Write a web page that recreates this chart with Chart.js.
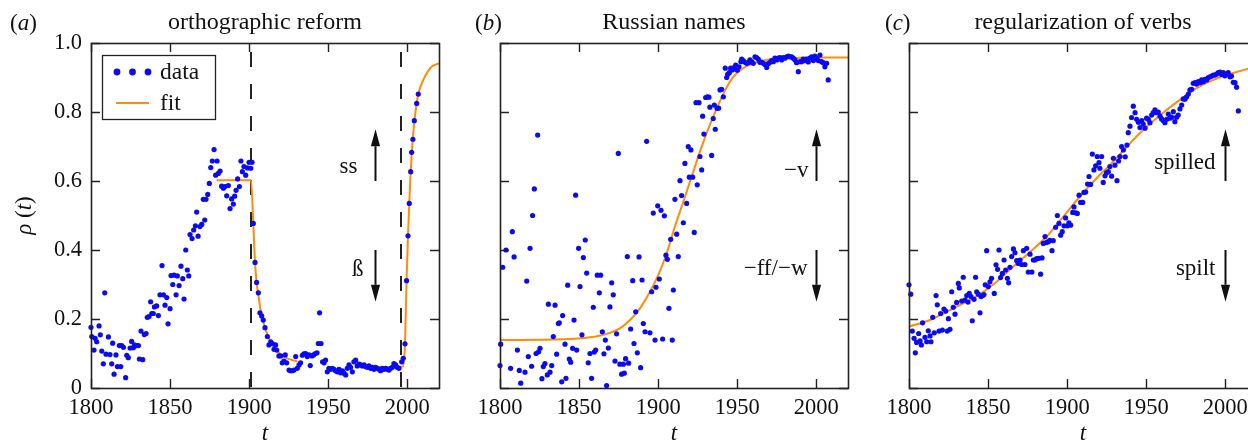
<!DOCTYPE html>
<html>
<head>
<meta charset="utf-8">
<script src="https://cdn.jsdelivr.net/npm/chart.js@4.4.1/dist/chart.umd.min.js"></script>
<style>
  html, body { margin: 0; padding: 0; background: #fff; }
  #wrap { position: relative; width: 1248px; height: 443px; overflow: hidden; }
  #wrap canvas { position: absolute; top: 0; }
</style>
</head>
<body>
<div id="wrap">
  <canvas id="chartA" width="445" height="443" style="left:0px"></canvas>
  <canvas id="chartB" width="445" height="443" style="left:409px"></canvas>
  <canvas id="chartC" width="445" height="443" style="left:818px"></canvas>
</div>
<script>
// ── Axis ticks ──────────────────────────────────────────────
const xTickValues = [1800, 1850, 1900, 1950, 2000];
const yTickValues = [0, 0.2, 0.4, 0.6, 0.8, 1.0];

// ── (a) orthographic reform ────────────────────────────────
const orthoYears = [
  1800.0,1800.5,1801.9,1802.6,1803.6,1805.1,1805.9,1806.8,1807.8,1808.7,
  1809.5,1811.0,1812.0,1813.1,1813.7,1814.6,1815.8,1816.7,1817.9,1818.8,
  1819.4,1820.5,1821.9,1822.6,1823.6,1824.7,1825.7,1826.8,1827.4,1828.9,
  1830.0,1830.6,1831.6,1832.7,1833.7,1834.8,1835.6,1836.7,1837.7,1838.4,
  1839.4,1840.1,1841.5,1842.6,1843.6,1844.9,1845.8,1846.8,1847.9,1848.7,
  1850.0,1850.6,1851.7,1852.5,1853.8,1854.6,1855.7,1856.9,1858.0,1858.8,
  1859.9,1860.9,1861.8,1862.6,1863.9,1864.9,1866.0,1866.8,1867.7,1868.9,
  1870.0,1871.0,1871.9,1872.7,1873.8,1874.8,1875.7,1876.7,1877.8,1878.8,
  1879.7,1880.5,1881.6,1882.6,1883.7,1884.7,1885.8,1886.8,1887.9,1888.9,
  1890.0,1890.8,1891.7,1892.7,1893.8,1894.8,1895.7,1896.7,1897.8,1898.9,
  1899.9,1901.0,1901.8,
  1902.6,1903.7,1904.7,1905.8,1906.8,1907.9,1908.9,1910.0,1911.5,1912.5,
  1913.6,1914.6,1915.7,1916.7,1917.4,1918.8,1919.9,1920.9,1922.0,1922.8,
  1923.7,1925.2,1926.2,1927.3,1928.3,1929.4,1930.4,1931.5,1932.5,1933.6,
  1934.6,1935.7,1936.7,1937.8,1938.6,1939.7,1940.7,1941.8,1942.9,1943.7,
  1944.5,1945.4,1946.4,1947.3,1948.3,1949.4,1950.4,1951.5,1952.5,1953.6,
  1954.6,1955.7,1956.8,1957.8,1958.9,1959.9,1961.0,1962.0,1963.1,1964.1,
  1965.2,1966.2,1967.3,1968.3,1969.4,1970.5,1971.5,1972.6,1973.6,1974.7,
  1975.7,1976.8,1977.8,1978.9,1979.9,1981.0,1982.0,1983.1,1984.1,1985.2,
  1986.3,1987.3,1988.4,1989.4,1990.5,1991.5,1992.6,1993.6,1994.7,1996.4,
  1997.4,1998.5,1999.5,2000.4,2001.2,2002.1,2002.7,2003.5,2004.4,2005.9,
  2006.9
];
const orthoShare = [
  0.176,0.149,0.110,0.144,0.134,0.180,0.154,0.107,0.070,0.276,
  0.098,0.148,0.097,0.070,0.130,0.040,0.096,0.062,0.123,0.062,
  0.123,0.118,0.030,0.095,0.088,0.116,0.135,0.117,0.125,0.123,
  0.123,0.084,0.165,0.082,0.155,0.158,0.205,0.207,0.250,0.216,
  0.216,0.235,0.238,0.210,0.270,0.355,0.270,0.240,0.262,0.186,
  0.230,0.326,0.300,0.327,0.270,0.325,0.297,0.353,0.317,0.258,
  0.400,0.342,0.325,0.445,0.433,0.458,0.470,0.510,0.440,0.468,
  0.474,0.547,0.487,0.547,0.561,0.593,0.639,0.658,0.691,0.617,
  0.658,0.622,0.629,0.585,0.579,0.584,0.557,0.587,0.520,0.548,
  0.533,0.556,0.573,0.606,0.584,0.658,0.627,0.642,0.617,0.638,
  0.654,0.637,0.654,
  0.477,0.364,0.306,0.276,0.218,0.209,0.197,0.175,0.149,0.125,
  0.134,0.129,0.112,0.125,0.110,0.093,0.093,0.073,0.078,0.096,
  0.073,0.052,0.050,0.050,0.052,0.091,0.057,0.067,0.073,0.095,
  0.099,0.100,0.091,0.096,0.065,0.093,0.096,0.100,0.102,0.129,
  0.218,0.129,0.076,0.073,0.081,0.047,0.057,0.054,0.057,0.054,
  0.050,0.047,0.054,0.044,0.050,0.043,0.038,0.057,0.067,0.060,
  0.047,0.076,0.081,0.064,0.069,0.067,0.064,0.067,0.062,0.060,
  0.064,0.057,0.060,0.054,0.060,0.057,0.054,0.050,0.057,0.054,
  0.057,0.054,0.052,0.057,0.060,0.071,0.067,0.060,0.057,0.076,
  0.086,0.128,0.311,0.441,0.535,0.627,0.683,0.721,0.775,0.825,
  0.852
];
const orthoFitYears1 = [1879.4, 1901.2, 1902.6, 1903.7, 1904.7, 1905.8, 1907.0, 1908.5, 1910.0, 1912.0, 1915.0, 1919.5, 1924.0, 1930.5];
const orthoFitShare1 = [0.602, 0.602, 0.477, 0.364, 0.306, 0.270, 0.232, 0.200, 0.175, 0.150, 0.122, 0.099, 0.086, 0.077];
const orthoFitYears2 = [1975.0, 1985.0, 1997.3, 1998.5, 1999.5, 2000.4, 2001.2, 2002.1, 2002.7, 2003.5, 2004.4, 2005.9, 2006.9, 2010.1, 2015.3, 2020.0];
const orthoFitShare2 = [0.061, 0.060, 0.062, 0.128, 0.311, 0.441, 0.535, 0.627, 0.675, 0.725, 0.772, 0.825, 0.852, 0.893, 0.931, 0.941];
const reformYears = [1901, 1996];

// ── (b) Russian names ──────────────────────────────────────
const russianYears = [
  1800.4,1800.0,1801.7,1803.8,1806.7,1807.8,1808.9,1811.0,1812.2,1813.1,
  1815.8,1816.9,1817.9,1819.0,1820.0,1820.6,1821.7,1822.8,1823.8,1824.4,
  1825.3,1826.5,1827.4,1828.4,1829.9,1830.6,1831.6,1832.7,1833.7,1834.8,
  1835.8,1836.9,1837.5,1839.0,1839.6,1841.1,1841.7,1842.8,1843.8,1844.7,
  1845.9,1846.8,1847.8,1848.5,1849.7,1850.6,1851.8,1852.7,1853.9,1854.8,
  1855.8,1856.9,1857.9,1859.0,1859.6,1860.5,1861.5,1862.8,1863.6,1864.7,
  1865.7,1866.6,1867.4,1868.5,1869.5,1870.6,1871.6,1872.7,1873.7,1874.8,
  1875.8,1876.9,1878.0,1878.6,1879.4,1880.5,1881.3,1882.6,1883.9,1884.7,
  1885.8,1886.8,1887.9,1888.9,1889.8,1890.6,1891.7,1892.7,1894.8,1895.9,
  1896.9,1898.0,1898.6,1899.7,1900.7,1901.8,1902.8,1903.9,1904.9,1905.8,
  1906.8,1907.9,1908.9,1909.6,1910.6,1911.7,1912.7,1913.8,1914.8,1915.9,
  1916.9,1918.0,1919.0,1919.7,1920.7,1921.8,1922.8,1923.9,1924.7,1925.8,
  1926.4,1927.5,1928.1,1928.9,1930.0,1931.1,1932.1,1932.7,1933.8,1934.8,
  1935.5,1936.1,1937.2,1938.2,1939.1,1940.1,1941.2,1942.4,1943.3,1943.9,
  1945.0,1945.8,1946.9,1947.9,1949.0,1950.0,1951.1,1952.3,1952.8,1953.8,
  1954.9,1955.9,1957.0,1958.0,1959.1,1960.1,1961.2,1962.2,1963.3,1964.3,
  1965.4,1966.5,1967.5,1968.6,1969.6,1970.7,1971.7,1972.8,1973.8,1974.9,
  1975.9,1977.0,1978.0,1979.1,1980.1,1981.2,1982.3,1983.3,1984.4,1985.4,
  1986.5,1987.5,1988.6,1989.6,1990.7,1991.7,1992.8,1993.8,1994.9,1995.9,
  1997.0,1998.1,1999.1,2000.2,2001.2,2002.3,2003.3,2004.4,2005.4,2006.5,
  2007.5
];
const russianShare = [
  0.127,0.065,0.350,0.400,0.057,0.453,0.380,0.110,0.051,0.014,
  0.046,0.310,0.091,0.405,0.063,0.500,0.577,0.100,0.733,0.105,
  0.115,0.027,0.062,0.071,0.038,0.243,0.046,0.065,0.149,0.240,
  0.098,0.187,0.189,0.018,0.210,0.127,0.028,0.298,0.084,0.075,
  0.115,0.197,0.559,0.110,0.405,0.294,0.154,0.378,0.429,0.333,
  0.073,0.100,0.028,0.234,0.104,0.110,0.327,0.276,0.327,0.163,
  0.099,0.139,0.007,0.116,0.235,0.305,0.270,0.078,0.157,0.680,
  0.069,0.040,0.069,0.043,0.085,0.381,0.072,0.171,0.311,0.129,
  0.221,0.102,0.380,0.059,0.313,0.187,0.163,0.715,0.160,0.279,
  0.507,0.139,0.292,0.528,0.316,0.515,0.142,0.499,0.385,0.373,
  0.231,0.431,0.139,0.284,0.547,0.446,0.381,0.601,0.558,0.479,
  0.651,0.535,0.700,0.611,0.690,0.611,0.451,0.827,0.589,0.827,
  0.671,0.632,0.788,0.736,0.842,0.844,0.843,0.814,0.674,0.781,
  0.820,0.750,0.811,0.811,0.864,0.866,0.844,0.927,0.900,0.909,
  0.914,0.927,0.922,0.929,0.936,0.921,0.931,0.946,0.953,0.949,
  0.944,0.941,0.943,0.951,0.946,0.941,0.960,0.958,0.953,0.944,
  0.945,0.941,0.938,0.929,0.940,0.944,0.949,0.946,0.956,0.951,
  0.956,0.958,0.951,0.958,0.956,0.960,0.962,0.960,0.960,0.956,
  0.951,0.943,0.917,0.946,0.946,0.953,0.949,0.953,0.945,0.956,
  0.960,0.949,0.962,0.956,0.949,0.965,0.946,0.943,0.931,0.941,
  0.893
];
const russianFitYears = [1800, 1840, 1856.9, 1867.4, 1875.8, 1882.2, 1888.5, 1894.8, 1900.1, 1905.4, 1910.6, 1915.9, 1921.2, 1926.4, 1931.7, 1937.0, 1942.2, 1947.5, 1953.8, 1960.1, 1968.6, 1981.2, 1998.1, 2020];
const russianFitShare = [0.139, 0.141, 0.147, 0.157, 0.173, 0.197, 0.231, 0.279, 0.328, 0.390, 0.468, 0.540, 0.613, 0.685, 0.752, 0.810, 0.862, 0.902, 0.927, 0.941, 0.951, 0.956, 0.958, 0.958];

// ── (c) regularization of verbs ────────────────────────────
const verbYears = [
  1800.0,1801.1,1802.1,1803.2,1804.0,1804.8,1806.1,1807.0,1807.8,1808.6,
  1810.1,1811.2,1812.2,1813.3,1813.9,1815.0,1816.0,1817.1,1817.9,1819.0,
  1820.0,1821.1,1822.1,1823.2,1824.2,1824.9,1825.9,1827.0,1828.0,1829.1,
  1830.1,1831.2,1831.8,1833.3,1834.3,1835.4,1836.5,1837.3,1838.1,1839.2,
  1840.0,1841.1,1842.1,1842.8,1843.8,1844.9,1845.5,1846.6,1847.4,1848.2,
  1849.1,1850.1,1851.2,1852.2,1853.9,1855.0,1856.0,1856.9,1857.9,1859.0,
  1860.1,1861.1,1862.2,1863.0,1863.8,1864.9,1866.0,1867.0,1868.1,1869.1,
  1870.2,1871.2,1872.3,1873.3,1874.4,1875.4,1876.5,1877.7,1878.6,1879.6,
  1880.7,1882.0,1883.2,1884.1,1884.9,1886.0,1887.0,1888.1,1889.1,1890.4,
  1891.2,1892.7,1893.8,1894.8,1895.9,1896.9,1898.0,1899.0,1900.1,1901.1,
  1902.2,1903.5,1904.3,1905.4,1906.4,1907.5,1908.5,1909.8,1910.6,1911.7,
  1912.9,1913.8,1914.8,1915.9,1916.9,1918.0,1919.0,1920.1,1920.7,1921.8,
  1922.8,1923.9,1924.9,1926.0,1927.0,1928.1,1929.2,1930.2,1931.5,1932.5,
  1933.4,1934.4,1935.5,1936.7,1937.8,1938.6,1939.7,1940.7,1941.8,1942.9,
  1943.9,1945.0,1946.0,1947.1,1948.1,1949.2,1950.2,1951.3,1952.3,1953.4,
  1954.4,1955.5,1956.5,1957.6,1958.7,1959.7,1960.8,1961.8,1962.9,1963.9,
  1965.0,1966.0,1967.1,1968.1,1969.2,1970.2,1971.3,1972.4,1973.4,1974.5,
  1975.5,1976.6,1977.6,1978.7,1979.7,1980.8,1981.8,1982.9,1984.0,1985.0,
  1986.1,1987.1,1988.2,1989.2,1990.3,1991.3,1992.4,1993.4,1994.5,1995.5,
  1996.6,1997.6,1998.7,1999.7,2000.8,2001.8,2002.9,2003.9,2005.0,2006.1,
  2007.1,2008.2
];
const verbShare = [
  0.299,0.272,0.165,0.144,0.102,0.132,0.158,0.137,0.125,0.189,
  0.147,0.134,0.166,0.151,0.134,0.205,0.160,0.268,0.241,0.165,
  0.216,0.168,0.229,0.223,0.165,0.201,0.170,0.279,0.234,0.214,
  0.248,0.303,0.290,0.252,0.321,0.255,0.268,0.249,0.274,0.265,
  0.195,0.257,0.321,0.279,0.272,0.218,0.265,0.268,0.271,0.299,
  0.398,0.294,0.308,0.318,0.274,0.357,0.344,0.400,0.320,0.332,
  0.371,0.342,0.318,0.305,0.350,0.381,0.403,0.392,0.369,0.361,
  0.371,0.358,0.398,0.358,0.405,0.336,0.388,0.336,0.371,0.371,
  0.375,0.376,0.330,0.377,0.419,0.439,0.422,0.424,0.428,0.398,
  0.427,0.466,0.500,0.477,0.443,0.453,0.470,0.493,0.470,0.479,
  0.472,0.509,0.525,0.508,0.506,0.559,0.538,0.538,0.567,0.568,
  0.591,0.613,0.590,0.678,0.632,0.644,0.671,0.653,0.637,0.671,
  0.596,0.615,0.624,0.627,0.642,0.614,0.666,0.646,0.601,0.658,
  0.671,0.700,0.690,0.670,0.704,0.740,0.759,0.784,0.817,0.798,
  0.779,0.770,0.755,0.775,0.765,0.753,0.782,0.779,0.769,0.791,
  0.798,0.806,0.798,0.800,0.788,0.780,0.775,0.769,0.779,0.794,
  0.782,0.785,0.801,0.772,0.785,0.791,0.809,0.820,0.838,0.837,
  0.844,0.852,0.864,0.866,0.883,0.885,0.881,0.888,0.885,0.893,
  0.888,0.895,0.893,0.900,0.902,0.904,0.907,0.907,0.910,0.914,
  0.916,0.909,0.914,0.905,0.910,0.914,0.902,0.904,0.886,0.885,
  0.872,0.803
];
const verbFitYears = [1800, 1813.3, 1823.8, 1834.3, 1844.9, 1855.4, 1866.0, 1876.5, 1887.0, 1897.6, 1908.1, 1918.6, 1929.1, 1939.7, 1950.2, 1960.7, 1971.3, 1981.8, 1992.3, 2000.8, 2007.1, 2014.3, 2020];
const verbFitShare = [0.178, 0.197, 0.221, 0.245, 0.272, 0.308, 0.352, 0.394, 0.439, 0.497, 0.555, 0.608, 0.656, 0.709, 0.757, 0.798, 0.835, 0.869, 0.893, 0.907, 0.916, 0.925, 0.931];

// ── Panel texts ────────────────────────────────────────────
const panelTitles = ["orthographic reform", "Russian names", "regularization of verbs"];
const panelLetters = ["a", "b", "c"];
const arrowYears = [1979.5, 2000, 2000];
const upLabels = ["ss", "\u2212v", "spilled"];
const downLabels = ["\u00df", "\u2212ff/\u2212w", "spilt"];

// ── Design tokens ──────────────────────────────────────────
const C = {
  blue: "#0a0af5",
  orange: "#ff8c0a",
  ink: "#111111",
  frame: "#222222"
};
const SERIF = '"Liberation Serif", "Times New Roman", serif';
const TICK = 9;

const pts = (xs, ys) => xs.map((x, i) => ({ x, y: ys[i] }));
const font = (size, italic) => (italic ? "italic " : "") + size + "px " + SERIF;

// draw a row of text runs, some italic (e.g. "(a)", "ρ (t)")
function drawRuns(ctx, runs, x, y, size, align) {
  const widths = runs.map(([t, it]) => { ctx.font = font(size, it); return ctx.measureText(t).width; });
  const total = widths.reduce((s, w) => s + w, 0);
  let cx = align === "center" ? x - total / 2 : align === "right" ? x - total : x;
  ctx.textAlign = "left";
  runs.forEach(([t, it], i) => {
    ctx.font = font(size, it);
    ctx.fillText(t, cx, y);
    cx += widths[i];
  });
}

function drawArrow(ctx, x0, yFrom, yTip) {
  const dir = Math.sign(yTip - yFrom);
  const head = 17, half = 4.6;
  ctx.beginPath();
  ctx.moveTo(x0, yFrom);
  ctx.lineTo(x0, yTip - dir * head);
  ctx.stroke();
  ctx.beginPath();
  ctx.moveTo(x0, yTip);
  ctx.lineTo(x0 - half, yTip - dir * head);
  ctx.lineTo(x0 + half, yTip - dir * head);
  ctx.closePath();
  ctx.fill();
}

/* ── frame, inward ticks, arrows, labels ─────────────────── */
const panelDecor = {
  id: "panelDecor",
  beforeDatasetsDraw(chart, args, o) {
    if (!o.dashed) return;
    const { ctx, chartArea: a, scales: { x } } = chart;
    ctx.save();
    ctx.strokeStyle = C.frame;
    ctx.lineWidth = 2;
    ctx.setLineDash([15, 17]);
    ctx.lineDashOffset = 23;
    o.dashed.forEach(v => {
      const px = Math.round(x.getPixelForValue(v));
      ctx.beginPath();
      ctx.moveTo(px, a.top);
      ctx.lineTo(px, a.bottom);
      ctx.stroke();
    });
    ctx.restore();
  },
  afterDraw(chart, args, o) {
    const { ctx, chartArea: a, scales: { x, y } } = chart;
    ctx.save();

    // inward tick marks on all four sides
    ctx.strokeStyle = C.frame;
    ctx.lineWidth = 1.4;
    ctx.beginPath();
    x.ticks.forEach(t => {
      const px = Math.round(x.getPixelForValue(t.value)) + 0.5;
      ctx.moveTo(px, a.bottom); ctx.lineTo(px, a.bottom - TICK);
      ctx.moveTo(px, a.top); ctx.lineTo(px, a.top + TICK);
    });
    y.ticks.forEach(t => {
      const py = Math.round(y.getPixelForValue(t.value)) + 0.5;
      ctx.moveTo(a.left, py); ctx.lineTo(a.left + TICK, py);
      ctx.moveTo(a.right, py); ctx.lineTo(a.right - TICK, py);
    });
    ctx.stroke();

    // frame
    ctx.lineWidth = 1.6;
    ctx.strokeRect(a.left + 0.5, a.top + 0.5, a.right - a.left, a.bottom - a.top);

    // arrows and their labels
    ctx.strokeStyle = C.ink;
    ctx.fillStyle = C.ink;
    ctx.lineWidth = 2;
    const ax = Math.round(x.getPixelForValue(o.arrowYear)) + 0.5;
    drawArrow(ctx, ax, y.getPixelForValue(0.6), y.getPixelForValue(0.75));
    drawArrow(ctx, ax, y.getPixelForValue(0.4), y.getPixelForValue(0.25));
    ctx.textBaseline = "alphabetic";
    ctx.font = font(23);
    ctx.textAlign = "right";
    ctx.fillText(o.upLabel, ax - o.upGap, o.upBase);
    ctx.fillText(o.downLabel, ax - o.downGap, o.downBase);

    // title and panel letter
    ctx.font = font(24);
    ctx.textAlign = "center";
    ctx.fillText(o.title, (a.left + a.right) / 2, 29);
    drawRuns(ctx, [["(", false], [o.letter, true], [")", false]], o.letterX, 30, 23, "left");

    // axis titles
    drawRuns(ctx, [["t", true]], (a.left + a.right) / 2, 440, 23, "center");
    if (o.yTitle) {
      ctx.save();
      ctx.translate(31, (a.top + a.bottom) / 2);
      ctx.rotate(-Math.PI / 2);
      drawRuns(ctx, [["\u03c1", true], [" (", false], ["t", true], [")", false]], 0, 0, 23, "center");
      ctx.restore();
    }

    // legend box
    if (o.legend) {
      const ds = chart.data.datasets;
      const lx = a.left + 11, ly = a.top + 12;
      ctx.strokeStyle = C.frame;
      ctx.lineWidth = 1.3;
      ctx.strokeRect(lx + 0.5, ly + 0.5, 113, 64);
      ctx.fillStyle = ds[0].backgroundColor;
      [15, 30.5, 46].forEach(dx => {
        ctx.beginPath();
        ctx.arc(lx + dx, ly + 17, 3.4, 0, Math.PI * 2);
        ctx.fill();
      });
      ctx.strokeStyle = ds[1].borderColor;
      ctx.lineWidth = 2;
      ctx.beginPath();
      ctx.moveTo(lx + 14, ly + 48);
      ctx.lineTo(lx + 47, ly + 48);
      ctx.stroke();
      ctx.fillStyle = C.ink;
      ctx.font = font(23.5);
      ctx.textAlign = "left";
      ctx.fillText(ds[0].label, lx + 58, ly + 24);
      ctx.fillText(ds[1].label, lx + 58, ly + 55);
    }
    ctx.restore();
  }
};

function dataSet(years, share) {
  return {
    label: "data",
    data: pts(years, share),
    backgroundColor: C.blue,
    borderWidth: 0,
    pointRadius: 2.6,
    pointHoverRadius: 2.6,
    pointBorderWidth: 0,
    clip: false
  };
}

function fitSet(years, share) {
  return {
    label: "fit",
    data: pts(years, share),
    showLine: true,
    borderColor: C.orange,
    backgroundColor: C.orange,
    borderWidth: 2,
    pointRadius: 0,
    cubicInterpolationMode: "monotone",
    fill: false
  };
}

function buildPanel(id, i, datasets, extra) {
  const showY = i === 0;
  return new Chart(document.getElementById(id), {
    type: "scatter",
    data: { datasets },
    options: {
      responsive: false,
      animation: false,
      events: [],
      layout: { padding: { left: 31, right: 6, top: 43, bottom: 0 } },
      plugins: {
        legend: { display: false },
        tooltip: { enabled: false },
        panelDecor: Object.assign({
          title: panelTitles[i],
          letter: panelLetters[i],
          arrowYear: arrowYears[i],
          upLabel: upLabels[i],
          downLabel: downLabels[i],
          yTitle: showY
        }, extra)
      },
      scales: {
        x: {
          type: "linear",
          min: 1800,
          max: 2020,
          afterBuildTicks: s => { s.ticks = xTickValues.map(v => ({ value: v })); },
          afterFit: s => { s.height = 55; },
          grid: { display: false, drawTicks: false },
          border: { display: false },
          ticks: {
            autoSkip: false,
            maxRotation: 0,
            padding: 7,
            color: C.ink,
            font: { family: SERIF, size: 22.5 },
            callback: v => String(v)
          }
        },
        y: {
          type: "linear",
          min: 0,
          max: 1,
          afterBuildTicks: s => { s.ticks = yTickValues.map(v => ({ value: v })); },
          afterFit: s => { s.width = 60; },
          grid: { display: false, drawTicks: false },
          border: { display: false },
          ticks: {
            display: showY,
            padding: 9,
            color: C.ink,
            font: { family: SERIF, size: 22.5 },
            callback: v => (v === 0 ? "0" : v.toFixed(1))
          }
        }
      }
    },
    plugins: [panelDecor]
  });
}

/* ── boot ─────────────────────────────────────────────────── */
function init() {
  buildPanel("chartA", 0, [
    dataSet(orthoYears, orthoShare),
    fitSet(orthoFitYears1, orthoFitShare1),
    fitSet(orthoFitYears2, orthoFitShare2)
  ], { letterX: 10, dashed: reformYears, legend: true, upGap: 18, downGap: 12, upBase: 173, downBase: 276 });

  buildPanel("chartB", 1, [
    dataSet(russianYears, russianShare),
    fitSet(russianFitYears, russianFitShare)
  ], { letterX: 66, upGap: 8, downGap: 9, upBase: 177, downBase: 275 });

  buildPanel("chartC", 2, [
    dataSet(verbYears, verbShare),
    fitSet(verbFitYears, verbFitShare)
  ], { letterX: 67, upGap: 10, downGap: 10, upBase: 169, downBase: 275 });
}

Promise.all([
  document.fonts.load("23px " + SERIF),
  document.fonts.load("italic 23px " + SERIF)
]).catch(() => {}).then(init);
</script>
</body>
</html>
